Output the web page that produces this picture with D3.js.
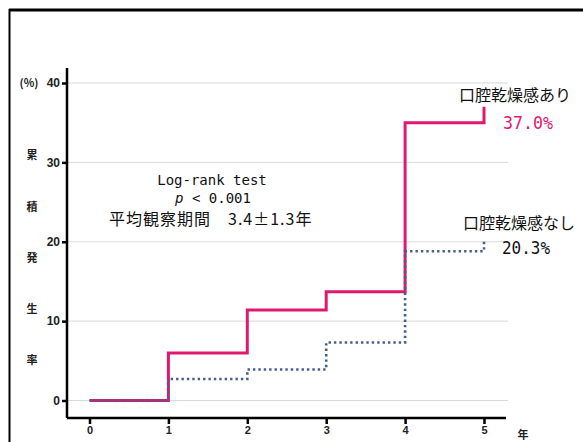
<!DOCTYPE html>
<html><head><meta charset="utf-8">
<script src="https://cdn.jsdelivr.net/npm/d3@7"></script>
<style>body{margin:0;background:#fff;} svg{display:block;}</style>
</head><body>
<svg id="c" width="583" height="442"></svg>
<script>
const years = [0, 1, 2, 3, 4, 5];
const dryYes = [0, 6.0, 11.4, 13.7, 35.0, 37.0];
const dryNo = [0, 2.7, 3.9, 7.3, 18.8, 20.3];
const yTicks = [0, 10, 20, 30, 40];
const xTicks = [0, 1, 2, 3, 4, 5];
const yLabelChars = ["累", "積", "発", "生", "率"];
const statTitle = "Log-rank test";
const statP = ["p", " < 0.001"];
const statPeriod = "平均観察期間　3.4±1.3年";
const seriesNames = ["口腔乾燥感あり", "口腔乾燥感なし"];
const endLabels = ["37.0%", "20.3%"];

const svg = d3.select("#c");
const mono = "'DejaVu Sans Mono','Liberation Mono',monospace";
const sans = "'Noto Sans CJK JP','Liberation Sans',sans-serif";

// outer frame
svg.append("line").attr("x1", 9).attr("x2", 583).attr("y1", 10).attr("y2", 10).attr("stroke", "#000").attr("stroke-width", 3);
svg.append("line").attr("x1", 9.5).attr("x2", 9.5).attr("y1", 9).attr("y2", 442).attr("stroke", "#000").attr("stroke-width", 2);

const x = d3.scaleLinear().domain([0, 5]).range([89.5, 484]);
const y = d3.scaleLinear().domain([0, 40]).range([400.5, 83]);

// gridlines
svg.append("g").selectAll("line").data(yTicks).join("line")
  .attr("x1", 67).attr("x2", 508).attr("y1", d => y(d)).attr("y2", d => y(d))
  .attr("stroke", "#d9d9d9").attr("stroke-width", 1);

// y axis
const yAxis = svg.append("g").attr("transform", "translate(67,0)")
  .call(d3.axisLeft(y).tickValues(yTicks).tickFormat(d3.format("d")).tickSize(5).tickPadding(2));
yAxis.select(".domain").attr("d", "M0,68V418").attr("stroke-width", 2.5);
yAxis.selectAll(".tick line").attr("stroke-width", 2.5);
yAxis.selectAll("text").attr("font-family", "'Liberation Sans Narrow','Liberation Sans',sans-serif").attr("font-size", 12).attr("font-weight", "bold").attr("fill", "#222");

// x axis
const xAxis = svg.append("g").attr("transform", "translate(0,418)")
  .call(d3.axisBottom(x).tickValues(xTicks).tickFormat(d3.format("d")).tickSize(6).tickPadding(2));
xAxis.select(".domain").attr("d", "M67,0H506").attr("stroke-width", 2.5);
xAxis.selectAll(".tick line").attr("stroke-width", 2.5);
xAxis.selectAll("text").attr("font-family", "'Liberation Sans Narrow','Liberation Sans',sans-serif").attr("font-size", 11).attr("font-weight", "bold").attr("fill", "#222");

svg.append("text").attr("x", 523).attr("y", 439).attr("text-anchor", "middle")
  .attr("font-family", sans).attr("font-size", 11).attr("font-weight", "bold").attr("fill", "#222").text("年");

// y axis title
svg.append("text").attr("x", 29).attr("y", 87).attr("text-anchor", "middle")
  .attr("font-family", sans).attr("font-size", 11).attr("font-weight", "bold").attr("fill", "#222").text("(%)");
const yCharY = [159, 211, 262, 313, 364];
svg.append("g").selectAll("text").data(yLabelChars).join("text")
  .attr("x", 32).attr("y", (d, i) => yCharY[i]).attr("text-anchor", "middle")
  .attr("font-family", sans).attr("font-size", 11).attr("font-weight", "bold").attr("fill", "#222").text(d => d);

// lines
const line = d3.line().x(d => x(d[0])).y(d => y(d[1])).curve(d3.curveStepAfter);
svg.append("path").datum(years.map((t, i) => [t, dryYes[i]]))
  .attr("d", line).attr("fill", "none").attr("stroke", "#e0196e").attr("stroke-width", 3);
svg.append("path").datum(years.map((t, i) => [t, dryNo[i]]))
  .attr("d", line).attr("fill", "none").attr("stroke", "#44608a").attr("stroke-width", 2.6)
  .attr("stroke-dasharray", "2.4,3");

// stats text
svg.append("text").attr("x", 212).attr("y", 185).attr("text-anchor", "middle")
  .attr("font-family", mono).attr("font-size", 14).attr("fill", "#111").text(statTitle);
const pt = svg.append("text").attr("x", 213).attr("y", 203).attr("text-anchor", "middle")
  .attr("font-family", mono).attr("font-size", 14).attr("fill", "#111");
pt.append("tspan").attr("font-style", "italic").text(statP[0]);
pt.append("tspan").text(statP[1]);
svg.append("text").attr("x", 109).attr("y", 225).attr("font-family", sans).attr("font-size", 16)
  .attr("letter-spacing", 1).attr("fill", "#111").text(statPeriod);

// series labels
svg.append("text").attr("x", 515).attr("y", 101).attr("text-anchor", "middle")
  .attr("font-family", sans).attr("font-size", 16).attr("fill", "#111").text(seriesNames[0]);
svg.append("text").attr("x", 503).attr("y", 129)
  .attr("font-family", mono).attr("font-size", 17).attr("textLength", 50).attr("lengthAdjust", "spacingAndGlyphs")
  .attr("fill", "#e0196e").text(endLabels[0]);
svg.append("text").attr("x", 519).attr("y", 229).attr("text-anchor", "middle")
  .attr("font-family", sans).attr("font-size", 16).attr("fill", "#111").text(seriesNames[1]);
svg.append("text").attr("x", 502).attr("y", 254)
  .attr("font-family", mono).attr("font-size", 17).attr("textLength", 48).attr("lengthAdjust", "spacingAndGlyphs")
  .attr("fill", "#111").text(endLabels[1]);
</script>
</body></html>
